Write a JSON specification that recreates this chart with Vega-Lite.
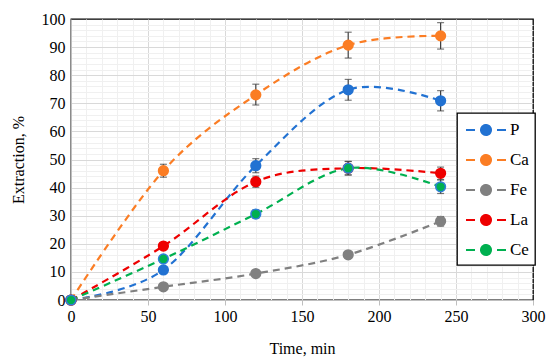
{
  "$schema": "https://vega.github.io/schema/vega-lite/v6.json",
  "autosize": {"type": "none"},
  "padding": {"left": 71, "top": 19, "right": 17, "bottom": 61},
  "width": 462,
  "height": 281,
  "background": "white",
  "config": {
    "view": {"stroke": "#000000", "strokeWidth": 1.3},
    "font": "Liberation Serif",
    "axis": {
      "labelFont": "Liberation Serif",
      "titleFont": "Liberation Serif",
      "labelFontSize": 16,
      "titleFontSize": 16,
      "titleFontWeight": 400,
      "labelColor": "#000000",
      "titleColor": "#000000",
      "domainColor": "#bfbfbf",
      "domainWidth": 1
    },
    "legend": {"labelFont": "Liberation Serif"}
  },
  "data": {
    "values": [
      {"element": "P", "time": 0, "value": 0, "lo": 0, "hi": 0},
      {"element": "P", "time": 60, "value": 10.7, "lo": 9.9, "hi": 11.5},
      {"element": "P", "time": 120, "value": 47.8, "lo": 45.3, "hi": 50.3},
      {"element": "P", "time": 180, "value": 74.8, "lo": 71.1, "hi": 78.5},
      {"element": "P", "time": 240, "value": 70.9, "lo": 67.3, "hi": 74.5},
      {"element": "Ca", "time": 0, "value": 0, "lo": 0, "hi": 0},
      {"element": "Ca", "time": 60, "value": 46.0, "lo": 43.7, "hi": 48.3},
      {"element": "Ca", "time": 120, "value": 73.0, "lo": 69.4, "hi": 76.8},
      {"element": "Ca", "time": 180, "value": 90.7, "lo": 86.1, "hi": 95.3},
      {"element": "Ca", "time": 240, "value": 94.0, "lo": 89.3, "hi": 98.7},
      {"element": "Fe", "time": 0, "value": 0, "lo": 0, "hi": 0},
      {"element": "Fe", "time": 60, "value": 4.7, "lo": 4.2, "hi": 5.2},
      {"element": "Fe", "time": 120, "value": 9.4, "lo": 8.8, "hi": 10.0},
      {"element": "Fe", "time": 180, "value": 16.1, "lo": 15.3, "hi": 16.9},
      {"element": "Fe", "time": 240, "value": 28.0, "lo": 26.3, "hi": 29.7},
      {"element": "La", "time": 0, "value": 0, "lo": 0, "hi": 0},
      {"element": "La", "time": 60, "value": 19.2, "lo": 18.2, "hi": 20.2},
      {"element": "La", "time": 120, "value": 42.1, "lo": 40.1, "hi": 44.1},
      {"element": "La", "time": 180, "value": 46.9, "lo": 44.5, "hi": 49.3},
      {"element": "La", "time": 240, "value": 45.1, "lo": 42.9, "hi": 47.3},
      {"element": "Ce", "time": 0, "value": 0, "lo": 0, "hi": 0},
      {"element": "Ce", "time": 60, "value": 14.6, "lo": 13.8, "hi": 15.4},
      {"element": "Ce", "time": 120, "value": 30.6, "lo": 29.1, "hi": 32.1},
      {"element": "Ce", "time": 180, "value": 46.9, "lo": 44.5, "hi": 49.3},
      {"element": "Ce", "time": 240, "value": 40.3, "lo": 37.9, "hi": 42.7}
    ]
  },
  "encoding": {
    "x": {
      "field": "time",
      "type": "quantitative",
      "scale": {"domain": [0, 300], "nice": false, "zero": true},
      "axis": {
        "title": "Time, min",
        "titleFontWeight": 400,
        "values": [0,10,20,30,40,50,60,70,80,90,100,110,120,130,140,150,160,170,180,190,200,210,220,230,240,250,260,270,280,290,300],
        "labelExpr": "datum.value % 50 === 0 ? datum.label : ''",
        "grid": true,
        "gridColor": {"condition": {"test": "datum.value % 50 === 0", "value": "#d9d9d9"}, "value": "#f0f0f0"},
        "gridOpacity": {"condition": {"test": "datum.value === 0 || datum.value === 300", "value": 0}, "value": 1},
        "gridWidth": 1,
        "ticks": true,
        "tickSize": 5,
        "tickColor": {"condition": {"test": "datum.value % 50 === 0", "value": "#bfbfbf"}, "value": "rgba(0,0,0,0)"},
        "labelPadding": 3,
        "labelFlush": false,
        "labelOverlap": false,
        "titlePadding": 16
      }
    },
    "y": {
      "field": "value",
      "type": "quantitative",
      "scale": {"domain": [0, 100], "nice": false},
      "axis": {
        "title": "Extraction, %",
        "titleFontWeight": 400,
        "values": [0,2,4,6,8,10,12,14,16,18,20,22,24,26,28,30,32,34,36,38,40,42,44,46,48,50,52,54,56,58,60,62,64,66,68,70,72,74,76,78,80,82,84,86,88,90,92,94,96,98,100],
        "labelExpr": "datum.value % 10 === 0 ? datum.label : ''",
        "grid": true,
        "gridColor": {"condition": {"test": "datum.value % 10 === 0", "value": "#d9d9d9"}, "value": "#f0f0f0"},
        "gridOpacity": {"condition": {"test": "datum.value === 0 || datum.value === 100", "value": 0}, "value": 1},
        "ticks": false,
        "labelPadding": 6,
        "labelFlush": false,
        "labelOverlap": false,
        "titlePadding": 15
      }
    }
  },
  "layer": [
    {
      "mark": {"type": "line", "strokeDash": [7, 5], "strokeWidth": 2.2, "interpolate": "cardinal"},
      "encoding": {
        "color": {"field": "element", "type": "nominal",
          "scale": {"domain": ["P", "Ca", "Fe", "La", "Ce"], "range": ["#2272d2", "#fb7d24", "#808080", "#ee0000", "#00b050"]},
          "legend": {
            "title": null,
            "orient": "none",
            "legendX": 386,
            "legendY": 94,
            "direction": "vertical",
            "padding": 6,
            "symbolType": "M-0.8,0H0.1M0.7,0A0.5,0.5 0 1,1 1.7,0A0.5,0.5 0 1,1 0.7,0M2.3,0H3.2",
            "symbolSize": 400,
            "symbolStrokeWidth": 2,
            "symbolOpacity": 1,
            "rowPadding": 10,
            "labelFont": "Liberation Serif",
            "labelFontSize": 17,
            "labelColor": "#000000",
            "labelOffset": 25,
            "labelLimit": 100,
            "encode": {
              "legend": {"update": {
                "stroke": {"value": "#000000"},
                "strokeWidth": {"value": 1.3},
                "fill": {"value": "#ffffff"}
              }},
              "symbols": {"update": {
                "fill": {"scale": "color", "field": "value"},
                "stroke": {"scale": "color", "field": "value"},
                "strokeDash": {"value": [1, 0]}
              }}
            }
          }
        }
      }
    },
    {
      "transform": [{"filter": "datum.hi > datum.lo"}],
      "mark": {"type": "errorbar", "ticks": {"size": 7, "color": "#404040", "thickness": 1.2}, "rule": {"color": "#404040", "strokeWidth": 1.2}},
      "encoding": {
        "y": {"field": "lo", "type": "quantitative", "title": "Extraction, %"},
        "y2": {"field": "hi"}
      }
    },
    {
      "mark": {"type": "point", "filled": true, "size": 95, "opacity": 1, "strokeWidth": 1.5},
      "encoding": {
        "color": {"field": "element", "type": "nominal",
          "scale": {"domain": ["P", "Ca", "Fe", "La", "Ce"], "range": ["#2272d2", "#fb7d24", "#808080", "#ee0000", "#00b050"]}},
        "stroke": {"field": "element", "type": "nominal", "legend": null,
          "scale": {"domain": ["P", "Ca", "Fe", "La", "Ce"], "range": ["#2272d2", "#fb7d24", "#808080", "#ee0000", "#2e7fd8"]}}
      }
    }
  ]
}
